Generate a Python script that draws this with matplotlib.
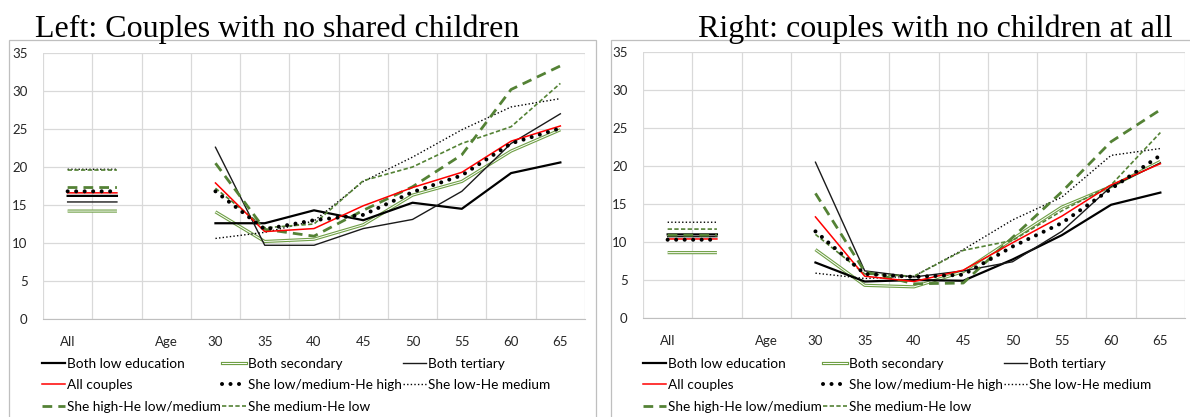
import numpy as np
import matplotlib.pyplot as plt
from matplotlib.lines import Line2D
from matplotlib.patches import Rectangle
from matplotlib.legend_handler import HandlerTuple

plt.rcParams['font.family'] = ['Lato', 'DejaVu Sans']

categories = ['All', '', 'Age', '30', '35', '40', '45', '50', '55', '60', '65']

# left: couples with no shared children  (value for "All", then ages 30..65)
left_low_all, left_low = 16.2, [12.6, 12.6, 14.3, 13.0, 15.3, 14.5, 19.2, 20.6]
left_sec_all, left_sec = 14.2, [14.1, 10.2, 10.5, 12.4, 16.3, 18.1, 22.1, 24.9]
left_ter_all, left_ter = 15.4, [22.6, 9.7, 9.7, 11.9, 13.1, 16.8, 23.1, 27.0]
left_cpl_all, left_cpl = 16.6, [17.9, 11.5, 11.9, 14.9, 17.3, 19.3, 23.4, 25.4]
left_lmh_all, left_lmh = 16.8, [16.8, 11.8, 13.0, 13.7, 16.7, 18.9, 23.1, 25.1]
left_lm_all, left_lm = 19.7, [10.6, 11.4, 12.9, 18.1, 21.3, 24.9, 27.9, 29.0]
left_hlm_all, left_hlm = 17.3, [20.5, 11.8, 10.9, 14.3, 17.4, 21.6, 30.2, 33.3]
left_ml_all, left_ml = 19.6, [17.2, 12.0, 12.5, 18.2, 20.0, 23.1, 25.3, 31.0]

# right: couples with no children at all
right_low_all, right_low = 11.0, [7.3, 4.8, 5.0, 4.9, 7.7, 10.9, 14.9, 16.5]
right_sec_all, right_sec = 8.6, [9.0, 4.3, 4.1, 6.1, 10.4, 14.6, 17.3, 20.6]
right_ter_all, right_ter = 10.7, [20.5, 6.2, 5.4, 6.2, 7.4, 11.4, 17.3, 20.4]
right_cpl_all, right_cpl = 10.4, [13.3, 5.5, 4.8, 6.3, 9.9, 13.4, 17.5, 20.3]
right_lmh_all, right_lmh = 10.3, [11.4, 5.8, 5.4, 5.7, 9.4, 12.5, 17.0, 21.4]
right_lm_all, right_lm = 12.6, [5.9, 5.2, 5.5, 9.0, 12.9, 15.9, 21.4, 22.3]
right_hlm_all, right_hlm = 10.9, [16.4, 6.1, 4.5, 4.6, 10.6, 16.6, 23.2, 27.4]
right_ml_all, right_ml = 11.7, [11.0, 5.8, 5.5, 8.9, 10.2, 14.1, 17.5, 24.4]

GREEN = '#548235'
GREEN2 = '#6f9f45'

styles = {
    'low': dict(color='black', lw=1.6),
    'ter': dict(color='#1a1a1a', lw=1.0),
    'cpl': dict(color='#ff0000', lw=1.1),
    'lmh': dict(color='black', lw=2.9, linestyle=(0, (0.01, 2.1)), dash_capstyle='round'),
    'lm': dict(color='black', lw=1.0, linestyle=(0, (1, 1.6))),
    'hlm': dict(color=GREEN, lw=2.0, linestyle=(0, (3.5, 2.2))),
    'ml': dict(color=GREEN, lw=1.2, linestyle=(0, (2.6, 1.4))),
}


def series(all_val, ages):
    return np.array([all_val, all_val, np.nan] + list(ages), dtype=float)


def panel(ax, d):
    x = np.arange(len(categories))
    ax.plot(x, series(*d['sec']), color=GREEN2, lw=2.3, solid_capstyle='butt')
    ax.plot(x, series(*d['sec']), color='white', lw=0.7, solid_capstyle='butt')
    for key in ['low', 'ter', 'lm', 'ml', 'hlm', 'cpl', 'lmh']:
        ax.plot(x, series(*d[key]), **styles[key])
    ax.set_xlim(-0.5, 10.5)
    ax.set_ylim(0, 35)
    ax.set_yticks(range(0, 36, 5))
    ax.set_xticks(x)
    ax.set_xticklabels(categories)
    ax.set_xticks(np.arange(-0.5, 11, 1), minor=True)
    ax.grid(True, which='major', axis='y', color='#d9d9d9', lw=0.9)
    ax.grid(True, which='minor', axis='x', color='#d9d9d9', lw=0.9)
    ax.set_axisbelow(True)
    for s in ['top', 'right', 'left']:
        ax.spines[s].set_visible(False)
    ax.spines['bottom'].set_color('#bfbfbf')
    ax.tick_params(axis='both', which='both', length=0, labelsize=9.5, labelcolor='#262626')
    ax.tick_params(axis='y', pad=11)
    ax.tick_params(axis='x', pad=12)


fig = plt.figure(figsize=(11.9, 4.17), dpi=100)

left = dict(low=(left_low_all, left_low), sec=(left_sec_all, left_sec), ter=(left_ter_all, left_ter),
            cpl=(left_cpl_all, left_cpl), lmh=(left_lmh_all, left_lmh), lm=(left_lm_all, left_lm),
            hlm=(left_hlm_all, left_hlm), ml=(left_ml_all, left_ml))
right = dict(low=(right_low_all, right_low), sec=(right_sec_all, right_sec), ter=(right_ter_all, right_ter),
             cpl=(right_cpl_all, right_cpl), lmh=(right_lmh_all, right_lmh), lm=(right_lm_all, right_lm),
             hlm=(right_hlm_all, right_hlm), ml=(right_ml_all, right_ml))

ax1 = fig.add_axes([43 / 1190, 98 / 417, 542 / 1190, 266 / 417])
ax2 = fig.add_axes([643 / 1190, 99 / 417, 542 / 1190, 266 / 417])
panel(ax1, left)
panel(ax2, right)

# chart area borders
for x0, w in [(9, 587), (611, 585)]:
    fig.patches.append(Rectangle((x0 / 1190, -0.05), w / 1190, 1.05 - 40 / 417,
                                 transform=fig.transFigure, fill=False,
                                 edgecolor='#bfbfbf', lw=0.9))

fig.text(35 / 1190, 1 - 37 / 417, 'Left: Couples with no shared children',
         family='Liberation Serif', fontsize=23, va='baseline')
fig.text(1173 / 1190, 1 - 37 / 417, 'Right: couples with no children at all',
         family='Liberation Serif', fontsize=23, va='baseline', ha='right')

# legend, column-major order for ncol=3
sec_handle = (Line2D([], [], color=GREEN2, lw=2.3), Line2D([], [], color='white', lw=0.7))
handles = [Line2D([], [], **styles['low']), Line2D([], [], **styles['cpl']), Line2D([], [], **styles['hlm']),
           sec_handle, Line2D([], [], **styles['lmh']), Line2D([], [], **styles['ml']),
           Line2D([], [], **styles['ter']), Line2D([], [], **styles['lm'])]
labels = ['Both low education', 'All couples', 'She high-He low/medium',
          'Both secondary', 'She low/medium-He high', 'She medium-He low',
          'Both tertiary', 'She low-He medium']

for xl in [42, 643]:
    fig.legend(handles, labels, ncol=3, loc='upper left',
               bbox_to_anchor=(xl / 1190, 1 - 358 / 417), frameon=False,
               fontsize=9.8, handlelength=1.7, handletextpad=0.15, columnspacing=0.1,
               labelspacing=0.68, borderpad=0, borderaxespad=0,
               handler_map={tuple: HandlerTuple(ndivide=1)})

fig.savefig('out.png', dpi=100)
